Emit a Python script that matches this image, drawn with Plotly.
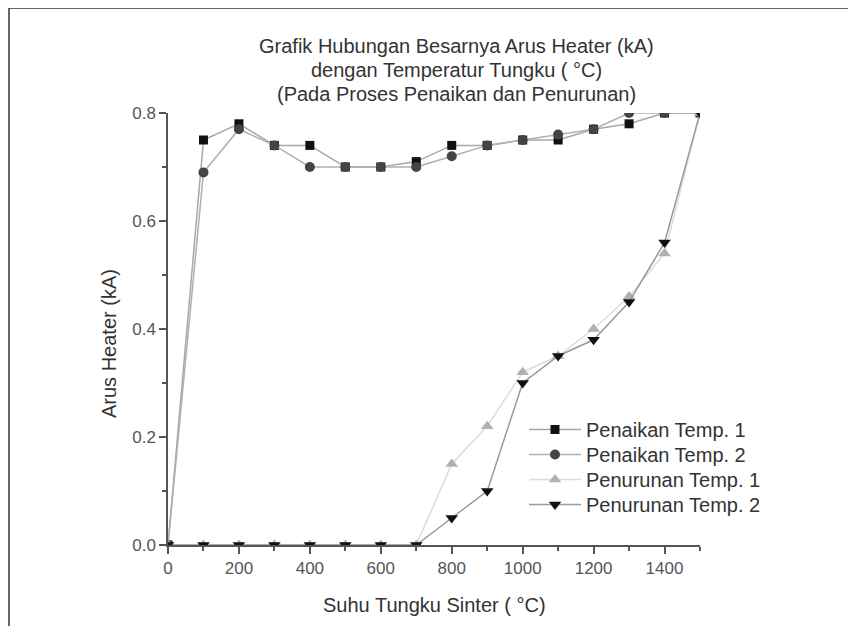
import plotly.graph_objects as go

suhu = [0, 100, 200, 300, 400, 500, 600, 700, 800, 900, 1000, 1100, 1200, 1300, 1400, 1500]
penaikan_1 = [0.0, 0.75, 0.78, 0.74, 0.74, 0.70, 0.70, 0.71, 0.74, 0.74, 0.75, 0.75, 0.77, 0.78, 0.80, 0.80]
penaikan_2 = [0.0, 0.69, 0.77, 0.74, 0.70, 0.70, 0.70, 0.70, 0.72, 0.74, 0.75, 0.76, 0.77, 0.80, 0.80, 0.80]
penurunan_1 = [0.0, 0.0, 0.0, 0.0, 0.0, 0.0, 0.0, 0.0, 0.15, 0.22, 0.32, 0.35, 0.40, 0.46, 0.54, 0.80]
penurunan_2 = [0.0, 0.0, 0.0, 0.0, 0.0, 0.0, 0.0, 0.0, 0.05, 0.10, 0.30, 0.35, 0.38, 0.45, 0.56, 0.80]

x_ticks = [0, 200, 400, 600, 800, 1000, 1200, 1400]
y_ticks = [0.0, 0.2, 0.4, 0.6, 0.8]
y_labels = ["0.0", "0.2", "0.4", "0.6", "0.8"]

FONT = "Liberation Sans, Arial, sans-serif"
OFF = 8  # page body margin

# target screen pixel positions of plot area
PX_L, PX_R, PX_T, PX_B = 168, 700, 113, 545
plot_w, plot_h = PX_R - PX_L, PX_B - PX_T
L = PX_L - OFF
T = PX_T - OFF
R = 856 - L - plot_w
B = 626 - T - plot_h


def px_x(px):
    return (px - PX_L) / plot_w


def px_y(py):
    return (PX_B - py) / plot_h


series = [
    ("Penaikan Temp. 1", penaikan_1, "square", "#111111", "#a8a8a8", 9),
    ("Penaikan Temp. 2", penaikan_2, "circle", "#444444", "#b0b0b0", 10),
    ("Penurunan Temp. 1", penurunan_1, "triangle-up", "#b0b0b0", "#dcdcdc", 11),
    ("Penurunan Temp. 2", penurunan_2, "triangle-down", "#111111", "#9a9a9a", 11),
]
legend_rows = [430, 455, 480, 505]
legend_ids = ["legend", "legend2", "legend3", "legend4"]

fig = go.Figure()
for (name, vals, sym, mcol, lcol, msize), lid in zip(series, legend_ids):
    fig.add_trace(go.Scatter(
        x=suhu, y=vals, name=name, mode="lines+markers",
        line=dict(color=lcol, width=1.5),
        marker=dict(symbol=sym, color=mcol, size=msize, line=dict(width=0)),
        cliponaxis=True, legend=lid,
    ))

axis_common = dict(
    showline=True, linecolor="#555555", linewidth=1.5,
    ticks="outside", ticklen=7, tickwidth=1.5, tickcolor="#555555",
    showgrid=False, zeroline=False, mirror=False,
    tickfont=dict(family=FONT, size=17, color="#555555"),
)

fig.update_xaxes(
    range=[0, 1500], tickvals=x_ticks,
    minor=dict(ticks="outside", ticklen=4, tickwidth=1.5, tickcolor="#555555", dtick=100, tick0=0),
    **axis_common,
)
fig.update_yaxes(
    range=[0, 0.8], tickvals=y_ticks, ticktext=y_labels,
    minor=dict(ticks="outside", ticklen=4, tickwidth=1.5, tickcolor="#555555", dtick=0.1, tick0=0),
    **axis_common,
)

title_lines = [
    ("Grafik Hubungan Besarnya Arus Heater (kA)", 46),
    ("dengan Temperatur Tungku ( °C)", 70),
    ("(Pada Proses Penaikan dan Penurunan)", 94),
]
annotations = []
for txt, py in title_lines:
    annotations.append(dict(
        text=txt, xref="paper", yref="paper",
        x=px_x(456), y=px_y(py),
        xanchor="center", yanchor="middle", showarrow=False,
        font=dict(family=FONT, size=20, color="#333333"),
    ))
annotations.append(dict(
    text="Suhu Tungku Sinter ( °C)", xref="paper", yref="paper",
    x=px_x(434), y=px_y(605), xanchor="center", yanchor="middle", showarrow=False,
    font=dict(family=FONT, size=20, color="#333333"),
))
annotations.append(dict(
    text="Arus Heater (kA)", xref="paper", yref="paper", textangle=-90,
    x=px_x(109), y=px_y(344), xanchor="center", yanchor="middle", showarrow=False,
    font=dict(family=FONT, size=20, color="#333333"),
))

fx = px_x(9)
fy = px_y(8)
shapes = [
    dict(type="line", xref="paper", yref="paper", x0=fx, x1=fx, y0=-0.4, y1=fy,
         line=dict(color="#333333", width=1.5)),
    dict(type="line", xref="paper", yref="paper", x0=fx, x1=1.5, y0=fy, y1=fy,
         line=dict(color="#333333", width=1.5)),
]

layout_legends = {}
for lid, row in zip(legend_ids, legend_rows):
    layout_legends[lid] = dict(
        x=px_x(524), y=px_y(row - 20),
        xanchor="left", yanchor="top",
        bgcolor="rgba(0,0,0,0)",
        font=dict(family=FONT, size=20, color="#333333"),
        itemwidth=52,
    )

fig.update_layout(
    width=856, height=626,
    margin=dict(l=L, r=R, t=T, b=B),
    paper_bgcolor="white", plot_bgcolor="white",
    annotations=annotations, shapes=shapes,
    showlegend=True,
    **layout_legends,
)

fig.write_html("out.html")
